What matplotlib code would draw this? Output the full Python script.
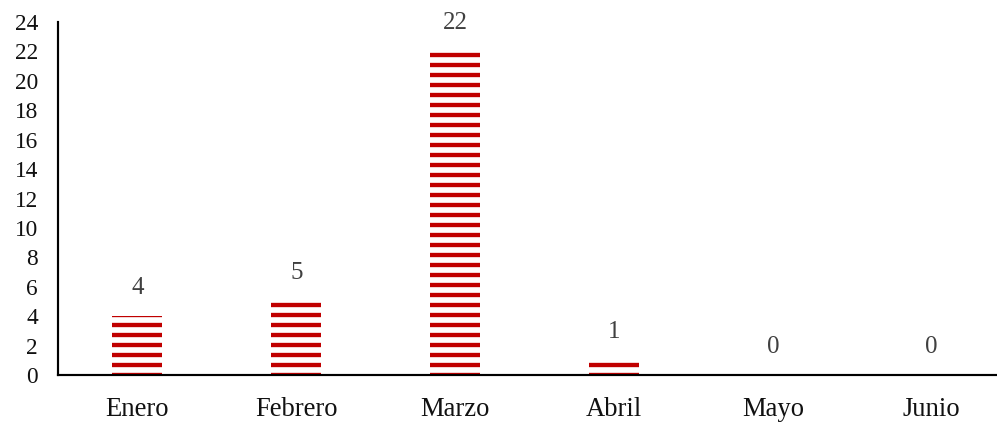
import matplotlib.pyplot as plt

plt.rcParams['font.family'] = ['Liberation Serif', 'DejaVu Serif']
plt.rcParams['hatch.linewidth'] = 2.6

meses = ["Enero", "Febrero", "Marzo", "Abril", "Mayo", "Junio"]
casos = [4, 5, 22, 1, 0, 0]
yticks = list(range(0, 25, 2))

rojo = "#C00000"

fig = plt.figure(figsize=(997 / 120, 423 / 120), dpi=120)
ax = fig.add_axes([58 / 997, 48 / 423, 953 / 997, 353 / 423])

x = range(len(meses))
ax.bar(x, casos, width=0.315, facecolor="white", edgecolor=rojo,
       hatch="--", linewidth=0)

for xi, v in zip(x, casos):
    ax.annotate(str(v), (xi, v), xytext=(0, 17), textcoords="offset points",
                ha="center", va="center", fontsize=15, color="#404040")

ax.set_xlim(-0.5, len(meses) - 0.5)
ax.set_ylim(0, 24)
ax.set_yticks(yticks)
ax.set_xticks(list(x))
ax.set_xticklabels(meses, fontsize=16, color="#111111")
ax.tick_params(axis="y", length=0, pad=12, labelsize=14, labelcolor="#111111")
ax.tick_params(axis="x", length=0, pad=13)

for s in ["top", "right"]:
    ax.spines[s].set_visible(False)
for s in ["left", "bottom"]:
    ax.spines[s].set_linewidth(1.3)
    ax.spines[s].set_color("black")

fig.savefig("out.png", dpi=120)
